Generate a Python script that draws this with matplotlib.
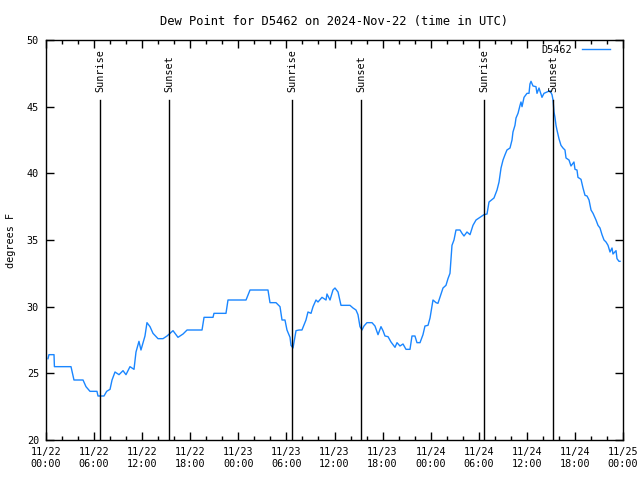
import matplotlib
matplotlib.use("Agg")
import matplotlib.pyplot as plt
from matplotlib.ticker import MultipleLocator, FixedLocator

# hours since 2024-11-22 00:00 UTC
hours = [0.25, 0.37, 1.0, 1.05, 3.12, 3.49, 4.62, 4.99, 5.49, 6.36, 6.49, 7.24, 7.57, 7.99,
         8.24, 8.61, 8.86, 9.11, 9.61, 9.98, 10.48, 10.98, 11.23, 11.60, 11.85, 12.35, 12.60,
         12.98, 13.35, 13.98, 14.6, 15.1, 15.85, 16.47, 17.1, 17.6, 19.47, 19.72, 20.84,
         20.96, 22.46, 22.71, 24.96, 25.46, 27.7, 27.95, 28.7, 29.2, 29.45, 29.82, 30.07,
         30.45, 30.57, 30.82, 31.2, 31.57, 31.94, 32.44, 32.69, 33.07, 33.32, 33.69, 33.94,
         34.44, 34.94, 35.06, 35.44, 35.81, 36.06, 36.44, 36.81, 37.93, 38.31, 38.68, 38.93,
         39.18, 39.43, 39.68, 40.05, 40.68, 41.05, 41.43, 41.80, 42.05, 42.30, 42.68, 43.05,
         43.55, 43.80, 44.17, 44.55, 44.92, 45.42, 45.67, 46.04, 46.29, 46.67, 47.04, 47.29,
         47.67, 47.92, 48.29, 48.67, 48.91, 49.16, 49.54, 49.91, 50.16, 50.41, 50.54, 50.66,
         50.91, 51.16, 51.66, 51.91, 52.16, 52.53, 52.91, 53.28, 53.66, 54.03, 54.65, 55.03,
         55.28, 55.90, 56.28, 56.53, 56.78, 57.03, 57.28, 57.52, 57.90, 58.15, 58.27, 58.52,
         58.65, 58.90, 59.15, 59.27, 59.40, 59.65, 60.02, 60.27, 60.39, 60.52, 60.77, 61.14,
         61.27, 61.52, 61.89, 62.14, 62.52, 62.89, 63.14, 63.27, 63.39, 63.51, 63.64, 63.76,
         64.01, 64.26, 64.51, 64.76, 64.89, 65.26, 65.51, 65.88, 66.01, 66.26, 66.38, 66.76,
         67.01, 67.26, 67.51, 67.76, 68.01, 68.26, 68.63, 68.88, 69.13, 69.38, 69.63, 69.88,
         70.13, 70.38, 70.63, 70.75, 71.13, 71.25, 71.50, 71.63]
dewpoint = [26.1, 26.4, 26.4, 25.5, 25.5, 24.5, 24.5, 24.0, 23.65, 23.65, 23.3, 23.3, 23.65, 23.8,
            24.5, 25.1, 25.0, 24.9, 25.2, 24.9, 25.5, 25.3, 26.6, 27.4, 26.75, 27.8, 28.8,
            28.5, 28.0, 27.6, 27.6, 27.8, 28.2, 27.7, 27.95, 28.25, 28.25, 29.2, 29.2,
            29.5, 29.5, 30.5, 30.5, 31.25, 31.25, 30.3, 30.3, 30.0, 29.0, 29.0, 28.25,
            27.7, 27.1, 26.9, 28.2, 28.25, 28.25, 29.0, 29.6, 29.5, 30.0, 30.5, 30.35,
            30.7, 30.5, 30.95, 30.5, 31.25, 31.4, 31.1, 30.1, 30.1, 29.9, 29.75, 29.4,
            28.5, 28.25, 28.55, 28.8, 28.8, 28.55, 27.9, 28.5, 28.2, 27.8, 27.75, 27.35,
            26.95, 27.3, 27.05, 27.2, 26.8, 26.8, 27.8, 27.8, 27.3, 27.3, 27.9, 28.55,
            28.6, 29.15, 30.5, 30.3, 30.25, 30.7, 31.4, 31.6, 32.1, 32.5, 33.65, 34.6,
            35.0, 35.75, 35.75, 35.5, 35.3, 35.6, 35.4, 36.1, 36.5, 36.65, 36.9, 36.95,
            37.85, 38.15, 38.75, 39.35, 40.4, 41.0, 41.4, 41.75, 41.9, 42.5, 43.1, 43.6,
            44.15, 44.5, 45.1, 45.35, 45.0, 45.7, 46.0, 46.0, 46.7, 46.9, 46.55, 46.5,
            46.0, 46.4, 45.7, 46.0, 46.1, 46.2, 45.9, 45.5, 44.6, 44.2, 43.6, 43.25,
            42.6, 42.1, 41.9, 41.75, 41.15, 41.0, 40.55, 40.85, 40.3, 40.25, 39.7, 39.55,
            38.9, 38.35, 38.3, 38.0, 37.25, 37.0, 36.5, 36.1, 35.9, 35.4, 35.0, 34.85,
            34.6, 34.1, 34.4, 33.95, 34.2, 33.6, 33.4, 33.4]

sun_hours = [6.74, 15.35, 30.7, 39.3, 54.7, 63.3]
sun_labels = ["Sunrise", "Sunset", "Sunrise", "Sunset", "Sunrise", "Sunset"]

tick_hours = list(range(0, 73, 6))
tick_labels = ["11/22\n00:00", "11/22\n06:00", "11/22\n12:00", "11/22\n18:00",
               "11/23\n00:00", "11/23\n06:00", "11/23\n12:00", "11/23\n18:00",
               "11/24\n00:00", "11/24\n06:00", "11/24\n12:00", "11/24\n18:00",
               "11/25\n00:00"]

plt.rcParams['font.family'] = ['DejaVu Sans Mono']
plt.rcParams['font.size'] = 7.3

fig = plt.figure(figsize=(6.4, 4.8), dpi=100)
ax = fig.add_axes([46/640, 40/480, (623-46)/640, 400/480])

ax.plot(hours, dewpoint, color='#1a86ff', linewidth=1.0, label='D5462')

for h, lab in zip(sun_hours, sun_labels):
    ax.plot([h, h], [20, 45.5], color='black', linewidth=1.0)
    ax.text(h, 46.1, lab, rotation=90, ha='center', va='bottom')

ax.set_xlim(0, 72)
ax.set_ylim(20, 50)
ax.xaxis.set_major_locator(FixedLocator(tick_hours))
ax.set_xticklabels(tick_labels)
ax.xaxis.set_minor_locator(MultipleLocator(2))
ax.yaxis.set_major_locator(MultipleLocator(5))
ax.tick_params(which='both', direction='in', top=True, right=True)
ax.tick_params(which='major', length=6, width=1, pad=5)
ax.tick_params(which='minor', length=3, width=1)
for s in ax.spines.values():
    s.set_linewidth(1)

ax.set_ylabel('degrees F', labelpad=8)
ax.set_title('Dew Point for D5462 on 2024-Nov-22 (time in UTC)', pad=11)

leg = ax.legend(loc='upper right', frameon=False, handlelength=2.8, handletextpad=0.9,
                markerfirst=False, borderaxespad=0, borderpad=0,
                bbox_to_anchor=(610/640, (480-45)/480), bbox_transform=fig.transFigure)

fig.savefig('out.png', dpi=100)
